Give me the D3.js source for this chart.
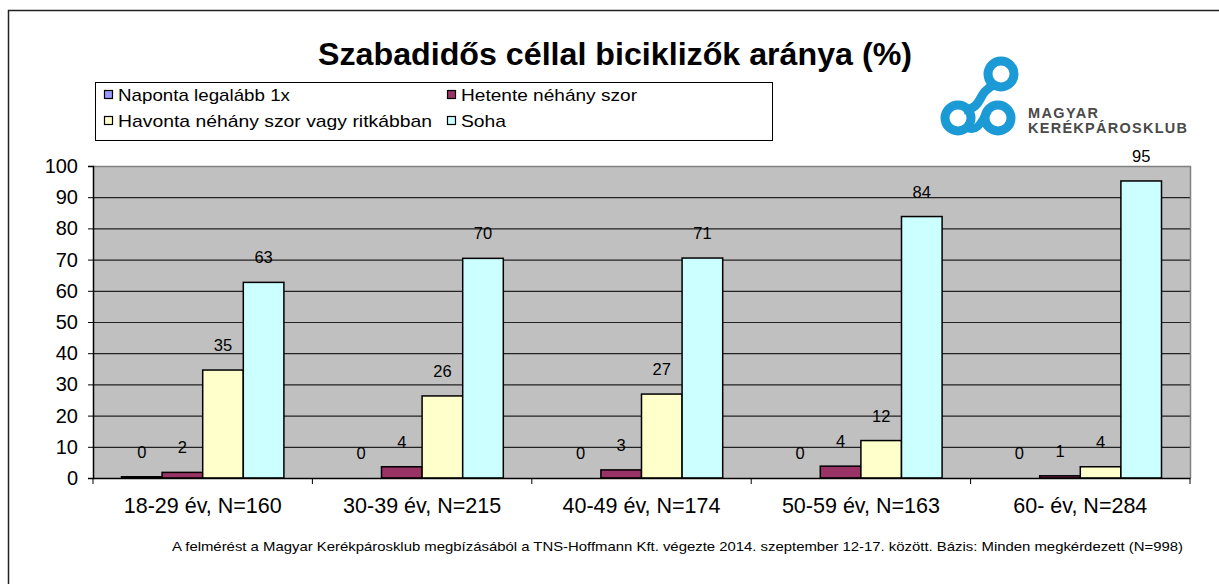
<!DOCTYPE html>
<html><head><meta charset="utf-8">
<script src="https://cdn.jsdelivr.net/npm/d3@7"></script>
<style>
html,body{margin:0;padding:0;background:#fff;}
svg{display:block;font-family:Arial,"Liberation Sans",sans-serif;}
</style></head>
<body>
<svg id="chart" width="1219" height="584"></svg>
<script>
const categories = ["18-29 év, N=160","30-39 év, N=215","40-49 év, N=174","50-59 év, N=163","60- év, N=284"];
const seriesNames = ["Naponta legalább 1x","Hetente  néhány szor","Havonta néhány szor vagy  ritkábban","Soha"];
const naponta = [0.4, 0, 0, 0, 0];
const hetente = [1.8, 3.6, 2.6, 3.8, 0.7];
const havonta = [34.6, 26.3, 26.9, 12, 3.6];
const soha = [62.7, 70.4, 70.5, 83.8, 95.2];
const labelsNaponta = ["0","0","0","0","0"];
const labelsHetente = ["2","4","3","4","1"];
const labelsHavonta = ["35","26","27","12","4"];
const labelsSoha = ["63","70","71","84","95"];
const yTicks = [0,10,20,30,40,50,60,70,80,90,100];
const colors = ["#9999FF","#993366","#FFFFCC","#CCFFFF"];
const titleText = "Szabadidős céllal biciklizők aránya (%)";
const footnote = "A felmérést a Magyar Kerékpárosklub megbízásából a TNS-Hoffmann Kft. végezte 2014. szeptember 12-17. között. Bázis: Minden megkérdezett (N=998)";

const seriesValues = [naponta, hetente, havonta, soha];
const seriesLabels = [labelsNaponta, labelsHetente, labelsHavonta, labelsSoha];

const svg = d3.select("#chart");
const P = {left:93, right:1190, top:166, bottom:478};

// outer frame
svg.append("path").attr("d","M8.5,584 L8.5,10.5 L1219,10.5").attr("fill","none").attr("stroke","#222").attr("stroke-width",1.5);

// title
svg.append("text").attr("x",615).attr("y",65).attr("text-anchor","middle")
  .attr("font-size",32).attr("font-weight","bold").attr("fill","#000")
  .attr("textLength",594).attr("lengthAdjust","spacingAndGlyphs").text(titleText);

const x0 = d3.scaleBand().domain(categories).range([P.left,P.right]).padding(0);
const x1 = d3.scaleBand().domain(d3.range(4)).range([28.5, x0.bandwidth()-28.5]).padding(0);
const y = d3.scaleLinear().domain([0,100]).range([P.bottom,P.top]);

// plot background
svg.append("rect").attr("x",P.left).attr("y",P.top).attr("width",P.right-P.left).attr("height",P.bottom-P.top).attr("fill","#C0C0C0");
// gridlines
svg.append("g").selectAll("line").data(yTicks.filter(d=>d>0 && d<100)).join("line")
  .attr("x1",P.left).attr("x2",P.right).attr("y1",d=>y(d)+0.5).attr("y2",d=>y(d)+0.5)
  .attr("stroke","#222").attr("stroke-width",1.2);
// plot border top/right
svg.append("path").attr("d",`M${P.left},${P.top+0.5} L${P.right+0.5},${P.top+0.5} L${P.right+0.5},${P.bottom}`)
  .attr("fill","none").attr("stroke","#808080").attr("stroke-width",1.5);

// bars
const groups = svg.append("g").selectAll("g").data(categories).join("g")
  .attr("transform",d=>`translate(${x0(d)},0)`);
groups.selectAll("rect").data((d,i)=>seriesValues.map((s,k)=>({k, v:s[i]}))).join("rect")
  .filter(d=>d.v>0)
  .attr("x",d=>x1(d.k)).attr("width",x1.bandwidth())
  .attr("y",d=>y(d.v)).attr("height",d=>y(0)-y(d.v))
  .attr("fill",d=>colors[d.k]).attr("stroke","#000").attr("stroke-width",1.5);
// data labels
groups.selectAll("text").data((d,i)=>seriesValues.map((s,k)=>({k, v:s[i], t:seriesLabels[k][i]}))).join("text")
  .attr("x",d=>x1(d.k)+x1.bandwidth()/2).attr("y",d=>y(d.v)-19)
  .attr("text-anchor","middle").attr("font-size",16.5).attr("fill","#000").text(d=>d.t);

// axes
const yAxis = d3.axisLeft(y).tickValues(yTicks).tickSize(5).tickPadding(10);
const gy = svg.append("g").attr("transform",`translate(${P.left},0)`).call(yAxis);
gy.select(".domain").attr("stroke","#000").attr("stroke-width",1.5);
gy.selectAll(".tick line").attr("stroke","#000");
gy.selectAll(".tick text").attr("font-size",20).attr("font-family","Arial,'Liberation Sans',sans-serif").attr("fill","#000");

const xAxis = d3.axisBottom(x0).tickSize(0).tickPadding(20);
const gx = svg.append("g").attr("transform",`translate(0,${P.bottom})`).call(xAxis);
gx.select(".domain").attr("stroke","#000").attr("stroke-width",1.5);
gx.selectAll(".tick text").attr("font-size",21.5).attr("font-family","Arial,'Liberation Sans',sans-serif").attr("fill","#000");
// group boundary ticks
svg.append("g").selectAll("line").data(d3.range(categories.length+1)).join("line")
  .attr("x1",i=>P.left+i*x0.step()).attr("x2",i=>P.left+i*x0.step())
  .attr("y1",P.bottom).attr("y2",P.bottom+6).attr("stroke","#000").attr("stroke-width",1);

// legend
const lg = svg.append("g");
lg.append("rect").attr("x",95.5).attr("y",82.5).attr("width",677).attr("height",58).attr("fill","#fff").attr("stroke","#000").attr("stroke-width",1);
const legPos = [[104,96],[447,96],[104,122],[447,122]];
const legWidths = [172,176,314,45];
seriesNames.forEach((n,k)=>{
  const [lx,ly]=legPos[k];
  lg.append("rect").attr("x",lx+0.5).attr("y",ly-5.5).attr("width",8).attr("height",8).attr("fill",colors[k]).attr("stroke","#000").attr("stroke-width",1.2);
  lg.append("text").attr("x",lx+14).attr("y",ly+5).attr("font-size",17)
    .attr("textLength",legWidths[k]).attr("lengthAdjust","spacingAndGlyphs")
    .attr("fill","#000").text(n);
});

// logo
const logo = svg.append("g");
const blue = "#1B9AD6";
logo.append("path").attr("d","M994,85 C976,93 984,108 964,110").attr("fill","none").attr("stroke",blue).attr("stroke-width",9);
logo.append("path").attr("d","M968,128 C980,134 984,112 990,110").attr("fill","none").attr("stroke",blue).attr("stroke-width",8);
[[1001,74],[958,118],[998,118]].forEach(([cx,cy])=>{
  logo.append("circle").attr("cx",cx).attr("cy",cy).attr("r",13).attr("fill","none").attr("stroke",blue).attr("stroke-width",9);
});
logo.append("text").attr("x",1028).attr("y",118).attr("font-size",14.5).attr("font-weight","bold")
  .attr("textLength",70).attr("lengthAdjust","spacing").attr("fill","#4a4a4a").text("MAGYAR");
logo.append("text").attr("x",1028).attr("y",133).attr("font-size",14.5).attr("font-weight","bold")
  .attr("textLength",159).attr("lengthAdjust","spacing").attr("fill","#4a4a4a").text("KERÉKPÁROSKLUB");

// footnote
svg.append("text").attr("x",172).attr("y",551).attr("font-size",13)
  .attr("textLength",1011).attr("lengthAdjust","spacingAndGlyphs").attr("fill","#000").text(footnote);
</script>
</body></html>
